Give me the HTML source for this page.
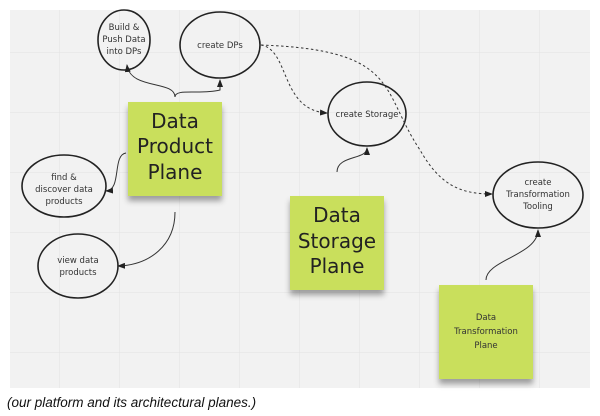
<!DOCTYPE html>
<html><head><meta charset="utf-8"><style>
html,body{margin:0;padding:0;background:#fff;width:600px;height:416px;overflow:hidden}
svg{display:block}
.s{font-family:"DejaVu Sans","Liberation Sans",sans-serif;fill:#333;font-size:8.5px;text-anchor:middle}
.b{font-family:"DejaVu Sans","Liberation Sans",sans-serif;fill:#222;font-size:20px;text-anchor:middle}
</style></head><body>
<svg width="600" height="416" viewBox="0 0 600 416" xmlns="http://www.w3.org/2000/svg">
<defs>
<pattern id="g" x="0" y="-7" width="60" height="60" patternUnits="userSpaceOnUse">
<path d="M60 0V60M0 60H60" stroke="#e2e2e2" stroke-width="1" fill="none"/></pattern>
<marker id="a" markerWidth="8" markerHeight="6" refX="7" refY="3" orient="auto" markerUnits="userSpaceOnUse">
<path d="M0 0L8 3L0 6z" fill="#222"/></marker>
<filter id="sh" x="-20%" y="-20%" width="140%" height="150%"><feDropShadow dx="0" dy="5" stdDeviation="3" flood-color="#000" flood-opacity="0.35"/></filter>
</defs>
<rect x="10" y="10" width="580" height="378" fill="#f2f2f2"/>
<rect x="10" y="10" width="580" height="378" fill="url(#g)"/>
<g fill="none" stroke="#222" stroke-width="1.6">
<ellipse cx="124" cy="40" rx="26" ry="30"/>
<ellipse cx="220" cy="45" rx="40" ry="33"/>
<ellipse cx="64" cy="186" rx="42" ry="31"/>
<ellipse cx="78" cy="266" rx="40" ry="32"/>
<ellipse cx="367" cy="114" rx="39" ry="32"/>
<ellipse cx="538" cy="195" rx="45" ry="33"/>
</g>
<g fill="none" stroke="#333" stroke-width="1">
<path d="M175 97C175 80 130 90 127 65" marker-end="url(#a)"/>
<path d="M175 97C175 88 200 95 220 90L220 80" marker-end="url(#a)"/>
<path d="M126 153C112 155 122 190 106 191" marker-end="url(#a)"/>
<path d="M175 212C175 245 150 265 118 266" marker-end="url(#a)"/>
<path d="M337 172C337 155 367 160 367 148" marker-end="url(#a)"/>
<path d="M486 280C486 260 538 255 538 230" marker-end="url(#a)"/>
</g>
<g fill="none" stroke="#333" stroke-width="1" stroke-dasharray="2.5,2.5">
<path d="M261 45C290 50 280 110 327 113" marker-end="url(#a)"/>
<path d="M261 45C400 50 380 90 420 150C440 185 460 194 492 194" marker-end="url(#a)"/>
</g>
<g filter="url(#sh)">
<rect x="128" y="102" width="94" height="94" fill="#c9df5b"/>
<rect x="290" y="196" width="94" height="94" fill="#c9df5b"/>
<rect x="439" y="285" width="94" height="94" fill="#c9df5b"/>
</g>
<text class="b"><tspan x="175" y="128">Data</tspan><tspan x="175" y="153">Product</tspan><tspan x="175" y="179">Plane</tspan></text>
<text class="b"><tspan x="337" y="222">Data</tspan><tspan x="337" y="248">Storage</tspan><tspan x="337" y="273">Plane</tspan></text>
<text class="s"><tspan x="486" y="320">Data</tspan><tspan x="486" y="334">Transformation</tspan><tspan x="486" y="348">Plane</tspan></text>
<text class="s"><tspan x="124" y="30">Build &amp;</tspan><tspan x="124" y="42">Push Data</tspan><tspan x="124" y="54">into DPs</tspan></text>
<text class="s" x="220" y="48">create DPs</text>
<text class="s"><tspan x="64" y="180">find &amp;</tspan><tspan x="64" y="192">discover data</tspan><tspan x="64" y="204">products</tspan></text>
<text class="s"><tspan x="78" y="263">view data</tspan><tspan x="78" y="275">products</tspan></text>
<text class="s" x="367" y="117">create Storage</text>
<text class="s"><tspan x="538" y="185">create</tspan><tspan x="538" y="197">Transformation</tspan><tspan x="538" y="209">Tooling</tspan></text>
<text x="7" y="407" font-family="Liberation Sans,sans-serif" font-style="italic" font-size="13.5" fill="#111">(our platform and its architectural planes.)</text>
</svg>
</body></html>
